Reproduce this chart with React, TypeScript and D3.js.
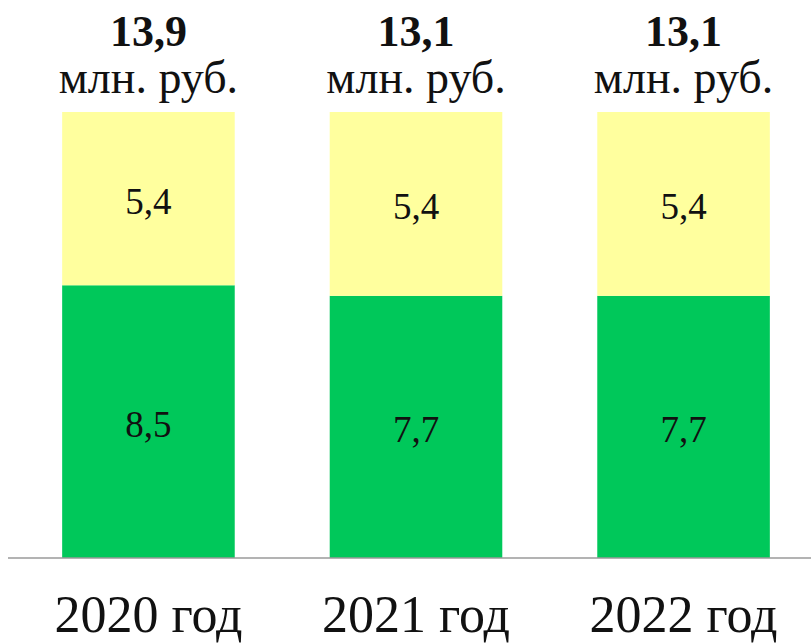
import React from "react";
import * as d3 from "d3";

const categories = ["2020 год", "2021 год", "2022 год"];
const greenValues = [8.5, 7.7, 7.7];
const yellowValues = [5.4, 5.4, 5.4];
const totals = [13.9, 13.1, 13.1];
const unitLabel = "млн. руб.";

const W = 811;
const H = 644;
const fmt = (v: number) => v.toFixed(1).replace(".", ",");
const FONT = "'Liberation Serif', 'DejaVu Serif', serif";

export default function App() {
  const x = d3.scaleBand<string>().domain(categories).range([14, 818]).paddingInner(0.355).paddingOuter(0.18);
  const y = d3.scaleLinear().domain([0, 1]).range([558, 112]);

  const rows = categories.map((c, i) => ({ cat: c, green: greenValues[i], yellow: yellowValues[i], total: totals[i] }));
  const stack = d3.stack<any>().keys(["green", "yellow"]).offset(d3.stackOffsetExpand);
  const series = stack(rows);
  const colors: Record<string, string> = { green: "#00C85A", yellow: "#FFFF9E" };

  return (
    <svg width={W} height={H} style={{ position: "absolute", left: 0, top: 0, background: "#fff" }} fontFamily={FONT}>
      {series.map((s) => (
        <g key={s.key}>
          {s.map((d, i) => {
            const x0 = x(categories[i])!;
            const y0 = y(d[1]);
            const y1 = y(d[0]);
            const val = (rows[i] as any)[s.key];
            return (
              <g key={i}>
                <rect x={x0} y={y0} width={x.bandwidth()} height={y1 - y0} fill={colors[s.key]} />
                <text
                  x={x0 + x.bandwidth() / 2}
                  y={(y0 + y1) / 2 + 3}
                  textAnchor="middle"
                  dominantBaseline="central"
                  fontSize={37}
                  fill="#111"
                >
                  {fmt(val)}
                </text>
              </g>
            );
          })}
        </g>
      ))}
      <line x1={8} x2={811} y1={558} y2={558} stroke="#9a9a9a" strokeWidth={1.5} />
      {rows.map((r, i) => {
        const cx = x(r.cat)! + x.bandwidth() / 2;
        return (
          <g key={r.cat}>
            <text x={cx} y={46} textAnchor="middle" fontSize={44} fontWeight="bold" fill="#111">
              {fmt(r.total)}
            </text>
            <text x={cx} y={93} textAnchor="middle" fontSize={46} fill="#111">
              {unitLabel}
            </text>
            <text x={cx} y={632} textAnchor="middle" fontSize={52} fill="#111">
              {r.cat}
            </text>
          </g>
        );
      })}
    </svg>
  );
}
